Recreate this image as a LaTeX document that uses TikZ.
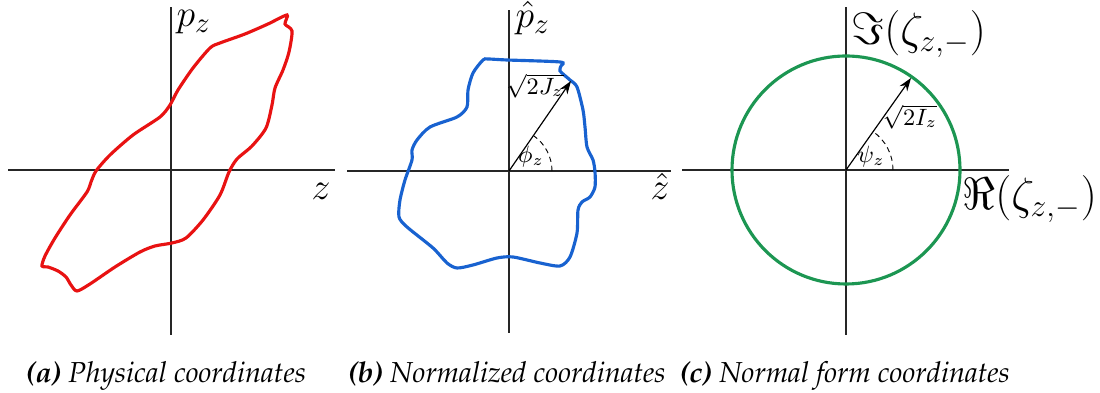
\documentclass[tikz,border=0pt]{standalone}
\usepackage{amsmath,amssymb}
\usepackage[T1,TU]{fontenc}
\usepackage{xcolor}
\usepackage{tikz}
\usetikzlibrary{arrows.meta}

\definecolor{orbitred}{RGB}{232,18,18}
\definecolor{orbitblue}{RGB}{24,98,208}
\definecolor{orbitgreen}{RGB}{28,150,82}

\newcommand{\capfont}{\fontencoding{T1}\fontfamily{ppl}\fontsize{11}{13}\selectfont\itshape}

\begin{document}
\begin{tikzpicture}[
    x=0.0134cm, y=0.0134cm,
    axis/.style={draw=black!85, line width=0.5pt},
    orbit/.style={line width=1.2pt, smooth cycle, tension=0.45},
    radius arrow/.style={-{Stealth[length=5pt,width=3.5pt]}, line width=0.45pt},
    angle arc/.style={dashed, line width=0.35pt, dash pattern=on 2pt off 1.5pt},
    axlabel/.style={font=\fontsize{15.5}{18}\selectfont, inner sep=0pt},
    capnode/.style={font=\capfont, inner sep=0pt, anchor=base}
]
\useasboundingbox (0,0) rectangle (1100,393);

% Panel (a): physical coordinates
\coordinate (oa) at (171,223);
\draw[axis] (171,58) -- (171,386);
\draw[axis] (8,223) -- (335,223);
\node[axlabel, anchor=base west] (pz) at (176,366) {$p_z$};
\node[axlabel, anchor=base east] (z) at (331,193) {$z$};
\draw[orbitred, orbit] plot coordinates {
    (287,378) (285,369) (292,362) (289,341) (283,323) (275,305) (272,288)
    (266,265) (252,247) (237,234) (229,221) (220,198) (203,173) (186,155)
    (172,150) (155,147) (140,141) (115,126) (90,109) (77,102) (71,108)
    (66,116) (58,122) (48,126) (42,127) (45,137) (55,155) (70,178) (87,201)
    (91,211) (96,222) (110,238) (133,258) (160,276) (170,288) (178,303)
    (193,325) (210,345) (220,350) (245,359) (268,369)};

% Panel (b): normalized coordinates
\coordinate (ob) at (509,222);
\coordinate (tipb) at (571,312);
\draw[axis] (509,60) -- (509,383);
\draw[axis] (347,222) -- (671,222);
\node[axlabel, anchor=base west] (phat) at (515,365) {$\hat{p}_z$};
\node[axlabel, anchor=base east] (zhat) at (670,193) {$\hat{z}$};
\draw[orbitblue, orbit] plot coordinates {
    (488,334) (507,333) (560,331) (561,327) (560,322) (570,313) (577,306)
    (583,283) (585,266) (587,246) (593,233) (595,221) (595,206) (590,196)
    (582,191) (578,183) (577,160) (570,136) (560,127) (540,130) (513,136)
    (497,135) (473,128) (457,125) (447,130) (433,145) (407,166) (399,176)
    (400,193) (405,213) (412,233) (412,243) (417,253) (430,266) (457,276)
    (467,286) (468,303) (473,320) (483,333)};
\draw[radius arrow] (ob) -- (tipb);
\draw[angle arc] (ob) ++(43,0) arc[start angle=0, end angle=55, radius=43];
\node[font=\small, inner sep=0pt] (jz) at (535,307) {$\sqrt{2J_z}$};
\node[font=\small, inner sep=0pt] (phi) at (531,236) {$\phi_z$};

% Panel (c): normal form coordinates
\coordinate (oc) at (846,223);
\coordinate (tipc) at (911,315);
\draw[axis] (846,58) -- (846,386);
\draw[axis] (682,223) -- (1009,223);
\draw[orbitgreen, line width=1.2pt] (oc) circle[radius=114];
\node[font=\LARGE, inner sep=0pt, anchor=base west] (im) at (851,348) {$\Im(\zeta_{z,-})$};
\node[font=\LARGE, inner sep=0pt, anchor=base west] (re) at (962,183) {$\Re(\zeta_{z,-})$};
\draw[radius arrow] (oc) -- (tipc);
\draw[angle arc] (oc) ++(47,0) arc[start angle=0, end angle=55, radius=47];
\node[font=\small, inner sep=0pt] (iz) at (910,276) {$\sqrt{2I_z}$};
\node[font=\small, inner sep=0pt] (psi) at (871,236) {$\psi_z$};

% Captions
\node[capnode] (capa) at (166,10) {\textbf{(a)} Physical coordinates};
\node[capnode] (capb) at (507,10) {\textbf{(b)} Normalized coordinates};
\node[capnode] (capc) at (845,10) {\textbf{(c)} Normal form coordinates};

\end{tikzpicture}
\end{document}
